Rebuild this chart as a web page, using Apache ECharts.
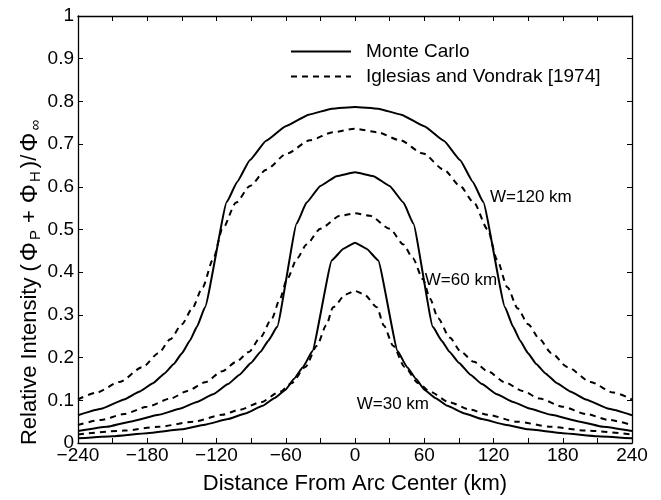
<!DOCTYPE html>
<html>
<head>
<meta charset="utf-8">
<script src="https://cdn.jsdelivr.net/npm/echarts@6/dist/echarts.min.js"></script>
<style>html,body{margin:0;padding:0;background:#fff;}#chart{width:661px;height:500px;}</style>
</head>
<body>
<div id="chart"></div>
<script>
// ---- data ----
const xTicks = [-240,-180,-120,-60,0,60,120,180,240];
const xTickLabels = ['\u2212240','\u2212180','\u2212120','\u221260','0','60','120','180','240'];
const yTickLabels = ['0','0.1','0.2','0.3','0.4','0.5','0.6','0.7','0.8','0.9','1'];

// Monte Carlo, W=120 km
const mc120X = [-240,-220,-200,-187,-175,-165,-157,-150,-143,-137,-130,-111,-102,-91,-77,-60,-40,-20,0,20,40,60,77,91,102,111,130,137,143,150,157,165,175,187,200,220,240];
const mc120Y = [0.065,0.080,0.102,0.120,0.140,0.163,0.185,0.210,0.240,0.272,0.318,0.565,0.612,0.663,0.708,0.742,0.769,0.783,0.787,0.783,0.769,0.742,0.708,0.663,0.612,0.565,0.318,0.272,0.240,0.210,0.185,0.163,0.140,0.120,0.102,0.080,0.065];
// Iglesias and Vondrak, W=120 km
const iv120X = [-240,-224,-204,-184,-170,-160,-150,-141,-132,-123,-115,-103,-91,-77,-59,-39,-19,0,19,39,59,77,91,103,115,123,132,141,150,160,170,184,204,224,240];
const iv120Y = [0.102,0.118,0.143,0.178,0.211,0.243,0.278,0.315,0.365,0.430,0.500,0.563,0.602,0.640,0.678,0.709,0.728,0.736,0.728,0.709,0.678,0.640,0.602,0.563,0.500,0.430,0.365,0.315,0.278,0.243,0.211,0.178,0.143,0.118,0.102];
// Monte Carlo, W=60 km
const mc60X = [-240,-215,-195,-170,-152,-137,-123,-110,-100,-90,-82,-75,-67.5,-50.5,-42,-30,-16,0,16,30,42,50.5,67.5,75,82,90,100,110,123,137,152,170,195,215,240];
const mc60Y = [0.028,0.038,0.050,0.066,0.080,0.096,0.114,0.138,0.160,0.188,0.213,0.240,0.272,0.514,0.563,0.602,0.625,0.634,0.625,0.602,0.563,0.514,0.272,0.240,0.213,0.188,0.160,0.138,0.114,0.096,0.080,0.066,0.050,0.038,0.028];
// Iglesias and Vondrak, W=60 km
const iv60X = [-240,-220,-200,-180,-160,-145,-130,-115,-103,-92,-82,-72,-65,-59,-50,-42,-30,-13,0,13,30,42,50,59,65,72,82,92,103,115,130,145,160,180,200,220,240];
const iv60Y = [0.042,0.054,0.068,0.085,0.104,0.122,0.142,0.168,0.190,0.213,0.247,0.292,0.338,0.383,0.433,0.465,0.502,0.532,0.538,0.532,0.502,0.465,0.433,0.383,0.338,0.292,0.247,0.213,0.190,0.168,0.142,0.122,0.104,0.085,0.068,0.054,0.042];
// Monte Carlo, W=30 km
const mc30X = [-240,-210,-180,-150,-130,-110,-95,-80,-70,-60,-53,-45,-37,-20,-10,0,10,20,37,45,53,60,70,80,95,110,130,150,180,210,240];
const mc30Y = [0.011,0.016,0.023,0.032,0.043,0.056,0.069,0.087,0.105,0.125,0.150,0.178,0.215,0.428,0.455,0.469,0.455,0.428,0.215,0.178,0.150,0.125,0.105,0.087,0.069,0.056,0.043,0.032,0.023,0.016,0.011];
// Iglesias and Vondrak, W=30 km
const iv30X = [-240,-200,-170,-140,-115,-100,-82,-65,-55,-43,-33,-25,-19,-8,0,8,19,25,33,43,55,65,82,100,115,140,170,200,240];
const iv30Y = [0.020,0.029,0.038,0.050,0.066,0.078,0.095,0.120,0.140,0.178,0.228,0.275,0.318,0.348,0.356,0.348,0.318,0.275,0.228,0.178,0.140,0.120,0.095,0.078,0.066,0.050,0.038,0.029,0.020];

const seriesNames = ['Monte Carlo', 'Iglesias and Vondrak [1974]'];
const curveLabels = ['W=120 km', 'W=60 km', 'W=30 km'];
const curveLabelAt = [[117, 0.576], [60.5, 0.38], [1.5, 0.09]];

// ---- chart ----
const FONT = 'Liberation Sans, Arial, Helvetica, sans-serif';
const FS = 19;
function pairs(xs, ys) { return xs.map((x, i) => [x, ys[i]]); }
function mk(name, xs, ys, dashed) {
  return {
    type: 'line', name: name, data: pairs(xs, ys), showSymbol: false, symbol: 'none',
    smooth: dashed ? 0.25 : 0.12, smoothMonotone: 'x',
    lineStyle: { color: '#000', width: 2, type: dashed ? [6, 5] : 'solid' },
    itemStyle: { color: '#000' }, animation: false, silent: true
  };
}
const tickFmtX = v => { const i = xTicks.indexOf(v); return i >= 0 ? xTickLabels[i] : ''; };
const tickFmtY = v => yTickLabels[Math.round(v * 10)] || '';

function axisCommon() {
  return {
    axisLine: { onZero: false, lineStyle: { color: '#000', width: 1.3 } },
    axisTick: { inside: true, length: 5, lineStyle: { color: '#000', width: 1 } },
    splitLine: { show: false }
  };
}

const chart = echarts.init(document.getElementById('chart'), null, { renderer: 'canvas' });
chart.setOption({
  backgroundColor: '#fff',
  animation: false,
  grid: { left: 78, right: 29, top: 16, bottom: 48 },
  legend: {
    data: seriesNames.map(n => ({ name: n })),
    orient: 'vertical', left: 290, top: 42, padding: 0,
    itemWidth: 60, itemHeight: 14, itemGap: 6,
    itemStyle: { opacity: 0 },
    textStyle: { fontFamily: FONT, fontSize: FS, color: '#000', padding: [0, 0, 0, 10] },
    selectedMode: false
  },
  xAxis: [
    Object.assign({
      type: 'value', position: 'bottom', min: -240, max: 240, interval: 30,
      axisLabel: { formatter: tickFmtX, fontFamily: FONT, fontSize: FS, color: '#000', margin: 3 },
      name: 'Distance From Arc Center (km)', nameLocation: 'middle', nameGap: 30,
      nameTextStyle: { fontFamily: FONT, fontSize: 22, color: '#000' }
    }, axisCommon()),
    Object.assign({
      type: 'value', position: 'top', min: -240, max: 240, interval: 30,
      axisLabel: { show: false }
    }, axisCommon())
  ],
  yAxis: [
    Object.assign({
      type: 'value', position: 'left', min: 0, max: 1, interval: 0.1,
      axisLabel: { formatter: tickFmtY, fontFamily: FONT, fontSize: FS, color: '#000', margin: 4 }
    }, axisCommon()),
    Object.assign({
      type: 'value', position: 'right', min: 0, max: 1, interval: 0.1,
      axisLabel: { show: false }
    }, axisCommon())
  ],
  series: [
    mk(seriesNames[0], mc120X, mc120Y, false),
    mk(seriesNames[1], iv120X, iv120Y, true),
    mk(seriesNames[0], mc60X, mc60Y, false),
    mk(seriesNames[1], iv60X, iv60Y, true),
    mk(seriesNames[0], mc30X, mc30Y, false),
    mk(seriesNames[1], iv30X, iv30Y, true)
  ]
});

// curve annotations placed in data coordinates, plus the rotated y-axis title
const graphics = curveLabels.map((t, i) => {
  const p = chart.convertToPixel({ xAxisIndex: 0, yAxisIndex: 0 }, curveLabelAt[i]);
  return {
    type: 'text', x: p[0], y: p[1], silent: true,
    style: { text: t, fontFamily: FONT, fontSize: 17, fill: '#000', align: 'left', verticalAlign: 'middle' }
  };
});
graphics.push({
  type: 'text', x: 30, y: 281, rotation: Math.PI / 2, silent: true,
  style: {
    text: '{n|Relative Intensity (}{f|\u03A6}{s|P}{p|+}{f|\u03A6}{s|H}{n|)/}{f|\u03A6}{s|\u221E}',
    align: 'center', verticalAlign: 'middle', fill: '#000',
    rich: {
      n: { fontFamily: FONT, fontSize: 22, fill: '#000', lineHeight: 26, verticalAlign: 'middle' },
      p: { fontFamily: FONT, fontSize: 22, fill: '#000', lineHeight: 26, verticalAlign: 'middle', padding: [0, 4, 0, 4] },
      f: { fontFamily: FONT, fontSize: 24, fill: '#000', lineHeight: 26, verticalAlign: 'middle', padding: [0, 1, 0, 3] },
      s: { fontFamily: FONT, fontSize: 15, fill: '#000', lineHeight: 12, verticalAlign: 'bottom', padding: [0, 3, 0, 1] }
    }
  }
});
chart.setOption({ graphic: graphics });
</script>
</body>
</html>
